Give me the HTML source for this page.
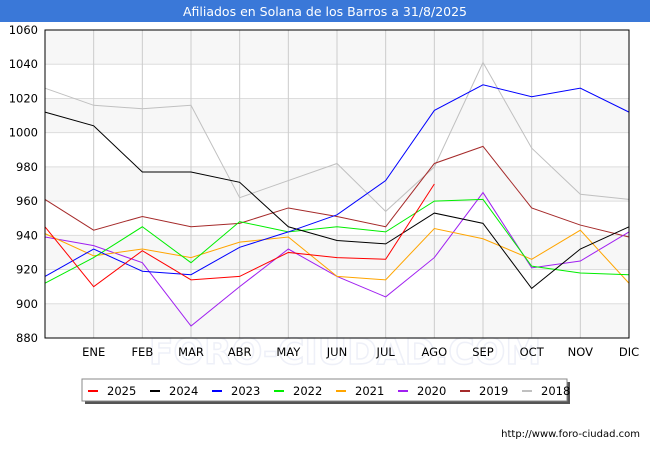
<!DOCTYPE html>
<html><head><meta charset="utf-8"><style>
body{margin:0;background:#fff;font-family:"Liberation Sans","DejaVu Sans",sans-serif}
#wrap{position:relative;width:650px;height:450px;overflow:hidden}
</style></head><body>
<div id="wrap">
<svg id="svg" width="650" height="450" xmlns="http://www.w3.org/2000/svg" font-family="DejaVu Sans, Liberation Sans, sans-serif">
<rect x="0" y="0" width="650" height="22" fill="#3a78d8"/>
<text x="325" y="16" text-anchor="middle" fill="#fff" font-size="12.5">Afiliados en Solana de los Barros a 31/8/2025</text>
<g id="grid"></g>
<text x="345" y="364" text-anchor="middle" font-size="36" fill="none" stroke="#eef0f8" stroke-width="1.5" font-weight="bold">FORO-CIUDAD.COM</text>
<g id="series"></g><g id="axes"></g>
<g id="legend"></g>
<text x="640" y="437" text-anchor="end" font-size="10" fill="#000">http://www.foro-ciudad.com</text>
</svg>
</div>
<script>
const months=["","ENE","FEB","MAR","ABR","MAY","JUN","JUL","AGO","SEP","OCT","NOV","DIC"];
const yTicks=[880,900,920,940,960,980,1000,1020,1040,1060];
const years=["2025","2024","2023","2022","2021","2020","2019","2018"];
const colors=["#ff0000","#000000","#0000ff","#00ee00","#ffa500","#a020f0","#a52a2a","#c0c0c0"];
const s2025=[945,910,931,914,916,930,927,926,970];
const s2024=[1012,1004,977,977,971,945,937,935,953,947,909,932,945];
const s2023=[916,932,919,917,933,942,952,972,1013,1028,1021,1026,1012];
const s2022=[912,927,945,924,948,942,945,942,960,961,922,918,917];
const s2021=[941,928,932,927,936,939,916,914,944,938,926,943,912];
const s2020=[939,934,924,887,910,932,916,904,927,965,921,925,942];
const s2019=[961,943,951,945,947,956,951,945,982,992,956,946,939];
const s2018=[1026,1016,1014,1016,962,972,982,954,980,1041,991,964,961];
const allSeries=[s2025,s2024,s2023,s2022,s2021,s2020,s2019,s2018];
const X0=45,X1=629,Y0=30,Y1=338,VMIN=880,VMAX=1060;
const xs=i=>X0+i*(X1-X0)/12;
const ys=v=>Y1-(v-VMIN)/(VMAX-VMIN)*(Y1-Y0);
const NS="http://www.w3.org/2000/svg";
function mk(tag,attrs,parent){const e=document.createElementNS(NS,tag);for(const k in attrs)e.setAttribute(k,attrs[k]);parent.appendChild(e);return e;}
const grid=document.getElementById('grid'),axes=document.getElementById('axes'),ser=document.getElementById('series'),leg=document.getElementById('legend');
for(let i=0;i<yTicks.length-1;i++){if(i%2===0){const r=mk('rect',{x:X0,y:ys(yTicks[i+1]),width:X1-X0,height:ys(yTicks[i])-ys(yTicks[i+1]),fill:'#f7f7f7'},grid);

}}
yTicks.forEach(v=>{const l=mk('line',{x1:X0,x2:X1,y1:ys(v),y2:ys(v),stroke:'#dddddd','stroke-width':1},grid);


const t=mk('text',{x:X0-7,y:ys(v)+4,'text-anchor':'end','font-size':11.5,fill:'#000'},axes);t.textContent=v;

});
months.forEach((m,i)=>{if(i>0){const l=mk('line',{x1:xs(i),x2:xs(i),y1:Y0,y2:Y1,stroke:'#cccccc','stroke-width':1},grid);

}
if(m){const t=mk('text',{x:xs(i),y:Y1+18,'text-anchor':'middle','font-size':11.5,fill:'#000'},axes);t.textContent=m;

}});
const fr=mk('rect',{x:X0,y:Y0,width:X1-X0,height:Y1-Y0,fill:'none',stroke:'#000','stroke-width':1},axes);


for(let k=allSeries.length-1;k>=0;k--){const d=allSeries[k].map((v,i)=>xs(i)+','+ys(v)).join(' ');
const p=mk('polyline',{points:d,fill:'none',stroke:colors[k],'stroke-width':1},ser);

}
const sh=mk('rect',{x:85,y:382,width:485,height:22,fill:'#555'},leg);


const lb=mk('rect',{x:82,y:379,width:485,height:22,fill:'#fff',stroke:'#888'},leg);


years.forEach((y,k)=>{const x=88+k*62;
const l=mk('line',{x1:x,x2:x+10,y1:391,y2:391,stroke:colors[k],'stroke-width':2},leg);


const t=mk('text',{x:x+19,y:395,'font-size':11.5,fill:'#000'},leg);t.textContent=y;

});
</script>
</body></html>
